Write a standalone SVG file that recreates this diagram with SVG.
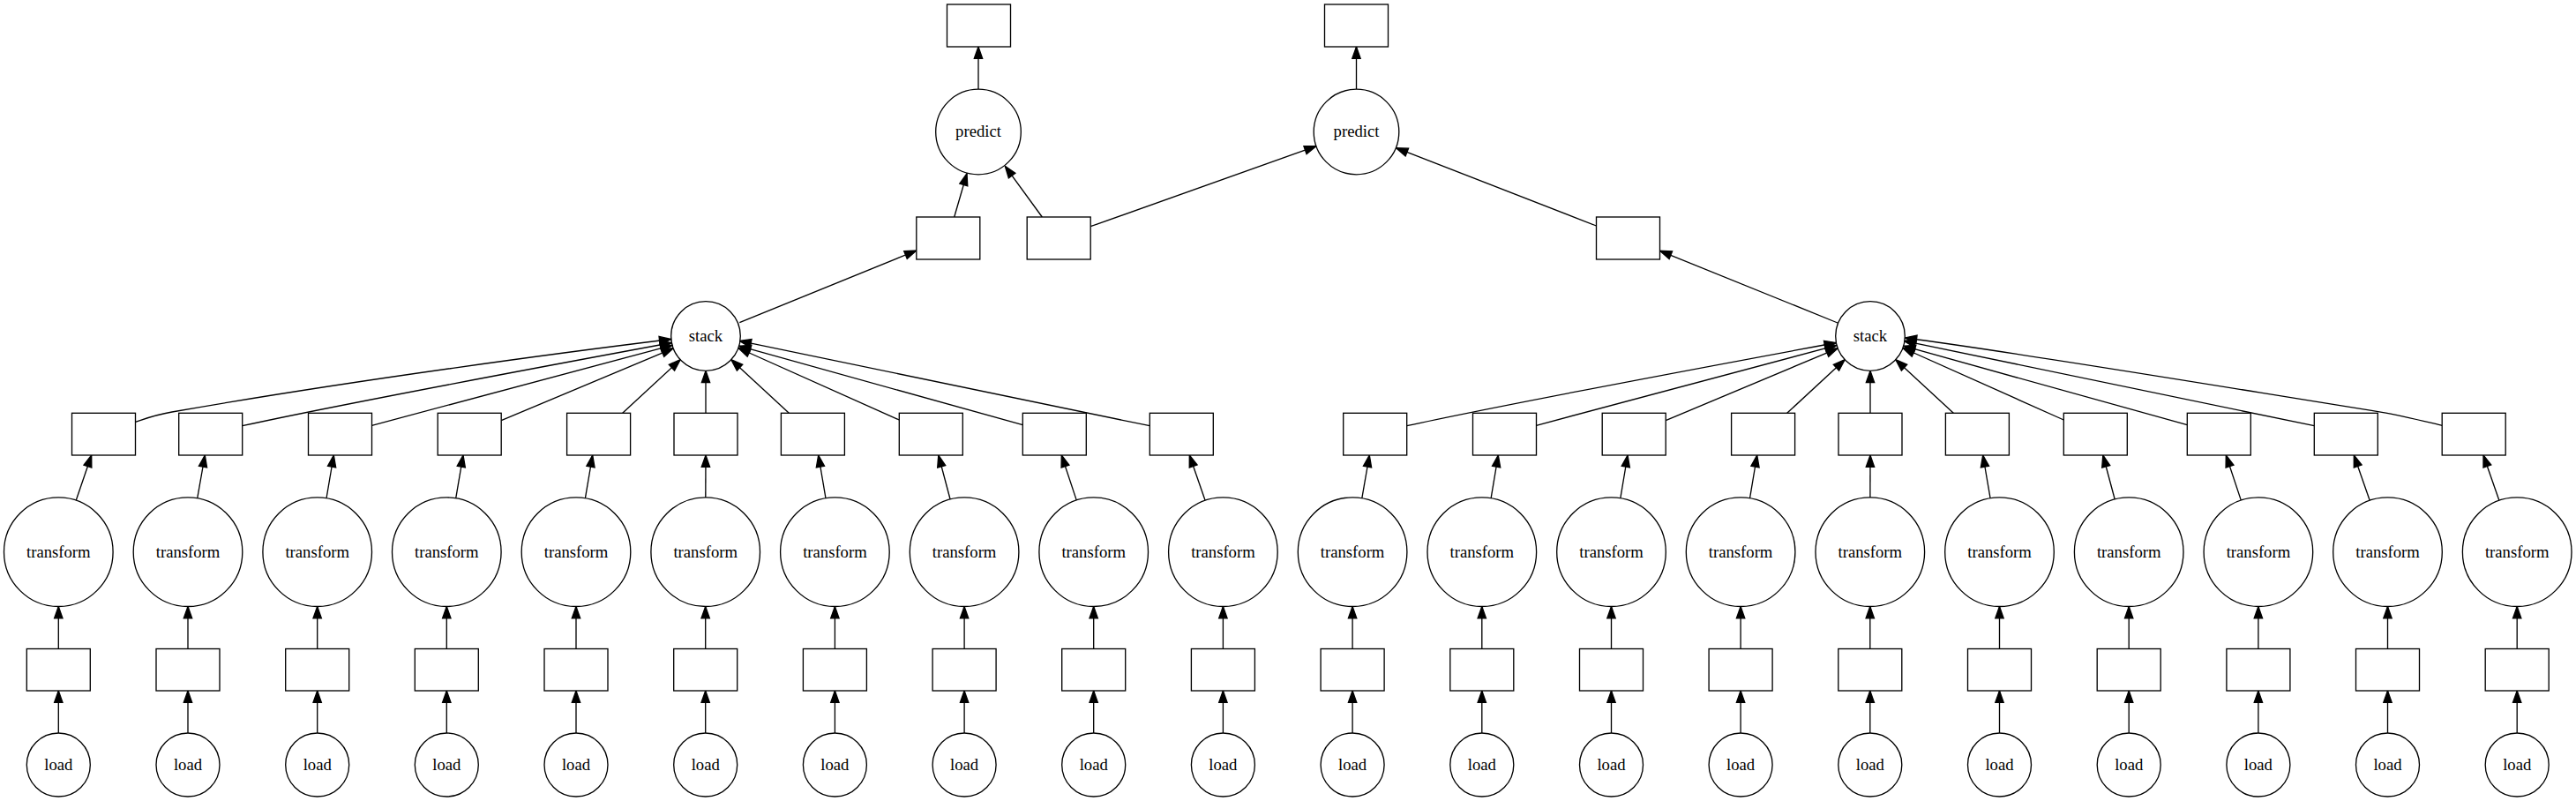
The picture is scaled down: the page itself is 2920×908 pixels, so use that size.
<svg xmlns="http://www.w3.org/2000/svg" width="2920" height="908" viewBox="0 0 2920 908">
<style>
.nd{fill:#fff;stroke:#000;stroke-width:1.33}
.e{fill:none;stroke:#000;stroke-width:1.33}
text{font-family:"Liberation Serif","Times New Roman",serif;font-size:18.67px;text-anchor:middle;fill:#000}
</style>
<defs>
<marker id="ah" markerUnits="userSpaceOnUse" viewBox="-1 -6 16 12" markerWidth="16" markerHeight="12" refX="13.3" refY="0" orient="auto" overflow="visible">
<path d="M0,-4.67 L13.3,0 L0,4.67 Z" fill="#000" stroke="#000" stroke-width="1.33"/>
</marker>
</defs>
<rect width="2920" height="908" fill="#fff"/>
<g id="edges" class="e" marker-end="url(#ah)">
<!-- load -> lower box -->
<path d="M66.3,831 L66.3,783"/><path d="M213,831 L213,783"/><path d="M359.7,831 L359.7,783"/><path d="M506.3,831 L506.3,783"/><path d="M653,831 L653,783"/>
<path d="M799.7,831 L799.7,783"/><path d="M946.4,831 L946.4,783"/><path d="M1093.1,831 L1093.1,783"/><path d="M1239.7,831 L1239.7,783"/><path d="M1386.4,831 L1386.4,783"/>
<path d="M1533.1,831 L1533.1,783"/><path d="M1679.8,831 L1679.8,783"/><path d="M1826.5,831 L1826.5,783"/><path d="M1973.1,831 L1973.1,783"/><path d="M2119.8,831 L2119.8,783"/>
<path d="M2266.5,831 L2266.5,783"/><path d="M2413.2,831 L2413.2,783"/><path d="M2559.9,831 L2559.9,783"/><path d="M2706.5,831 L2706.5,783"/><path d="M2853.2,831 L2853.2,783"/>
<!-- lower box -> transform -->
<path d="M66.3,735.5 L66.3,687.5"/><path d="M213,735.5 L213,687.5"/><path d="M359.7,735.5 L359.7,687.5"/><path d="M506.3,735.5 L506.3,687.5"/><path d="M653,735.5 L653,687.5"/>
<path d="M799.7,735.5 L799.7,687.5"/><path d="M946.4,735.5 L946.4,687.5"/><path d="M1093.1,735.5 L1093.1,687.5"/><path d="M1239.7,735.5 L1239.7,687.5"/><path d="M1386.4,735.5 L1386.4,687.5"/>
<path d="M1533.1,735.5 L1533.1,687.5"/><path d="M1679.8,735.5 L1679.8,687.5"/><path d="M1826.5,735.5 L1826.5,687.5"/><path d="M1973.1,735.5 L1973.1,687.5"/><path d="M2119.8,735.5 L2119.8,687.5"/>
<path d="M2266.5,735.5 L2266.5,687.5"/><path d="M2413.2,735.5 L2413.2,687.5"/><path d="M2559.9,735.5 L2559.9,687.5"/><path d="M2706.5,735.5 L2706.5,687.5"/><path d="M2853.2,735.5 L2853.2,687.5"/>
<!-- transform -> upper box -->
<path d="M86.2,567.2 L103.7,516"/><path d="M223.7,564.8 L232.3,516"/><path d="M370,564.8 L378.3,516"/><path d="M516.7,564.8 L525,516"/><path d="M663.4,564.8 L671.7,516"/>
<path d="M799.8,563.9 L800,516"/><path d="M936,564.8 L927.7,516"/><path d="M1077.1,566 L1063.8,516"/><path d="M1220.3,567.1 L1203.3,516"/><path d="M1366.1,567.3 L1348.3,516"/>
<path d="M1543.8,564.8 L1552.3,516"/><path d="M1690.1,564.8 L1698.3,516"/><path d="M1836.8,564.8 L1845,516"/><path d="M1983.5,564.8 L1991.7,516"/><path d="M2119.9,563.9 L2120,516"/>
<path d="M2256.1,564.8 L2247.7,516"/><path d="M2397.2,566 L2383.8,516"/><path d="M2540.3,567.1 L2523.3,516"/><path d="M2686.2,567.3 L2668.3,516"/><path d="M2832.9,567.3 L2815,516"/>
<!-- upper box -> stack (left) -->
<path d="M153.5,478.3 C165,474.5 175,470.5 195,467 C400,431 650,398 760.8,384.5"/>
<path d="M274.7,482.7 C380,459.5 640,411 761.4,388.5"/>
<path d="M421.5,482.3 L762,391.4"/>
<path d="M568.2,476.7 L763.2,394.8"/>
<path d="M705.7,468.3 L771.2,407.7"/>
<path d="M800,468.3 L800,420.3"/>
<path d="M894.3,468.3 L828.8,407.7"/>
<path d="M1019.3,476 L837,394.5"/>
<path d="M1159.3,481.7 L837.8,392.2"/>
<path d="M1303.3,482.7 L838.1,386.4"/>
<!-- upper box -> stack (right) -->
<path d="M1594.7,482.7 C1700,459.5 1960,411 2081.4,388.5"/>
<path d="M1741.5,482.3 L2082,391.4"/>
<path d="M1888.2,476.7 L2083.2,394.8"/>
<path d="M2025.7,468.3 L2091.2,407.7"/>
<path d="M2120,468.3 L2120,420.3"/>
<path d="M2214.3,468.3 L2148.8,407.7"/>
<path d="M2339.3,476 L2157,394.5"/>
<path d="M2479.3,481.7 L2157.8,392.2"/>
<path d="M2623.3,482.7 L2158.1,386.4"/>
<path d="M2768.2,482.3 C2750,478 2720,470.5 2700,467.3 C2500,435.3 2270,397 2159.3,383"/>
<!-- top section -->
<path d="M838.3,365.7 L1038.8,284"/>
<path d="M2083,366 L1881.5,284.3"/>
<path d="M1081.7,246 L1096,196.7"/>
<path d="M1181.3,246 L1139.3,188.3"/>
<path d="M1236.2,256.7 L1492,165.7"/>
<path d="M1809.5,256 L1582.5,167.7"/>
<path d="M1109,101.2 L1109,53"/>
<path d="M1537.5,101.2 L1537.5,53"/>
</g>
<!-- load nodes -->
<g id="load0"><circle class="nd" cx="66.3" cy="867" r="36"/><text x="66.3" y="872.6">load</text></g>
<g id="load1"><circle class="nd" cx="213" cy="867" r="36"/><text x="213" y="872.6">load</text></g>
<g id="load2"><circle class="nd" cx="359.7" cy="867" r="36"/><text x="359.7" y="872.6">load</text></g>
<g id="load3"><circle class="nd" cx="506.3" cy="867" r="36"/><text x="506.3" y="872.6">load</text></g>
<g id="load4"><circle class="nd" cx="653" cy="867" r="36"/><text x="653" y="872.6">load</text></g>
<g id="load5"><circle class="nd" cx="799.7" cy="867" r="36"/><text x="799.7" y="872.6">load</text></g>
<g id="load6"><circle class="nd" cx="946.4" cy="867" r="36"/><text x="946.4" y="872.6">load</text></g>
<g id="load7"><circle class="nd" cx="1093.1" cy="867" r="36"/><text x="1093.1" y="872.6">load</text></g>
<g id="load8"><circle class="nd" cx="1239.7" cy="867" r="36"/><text x="1239.7" y="872.6">load</text></g>
<g id="load9"><circle class="nd" cx="1386.4" cy="867" r="36"/><text x="1386.4" y="872.6">load</text></g>
<g id="load10"><circle class="nd" cx="1533.1" cy="867" r="36"/><text x="1533.1" y="872.6">load</text></g>
<g id="load11"><circle class="nd" cx="1679.8" cy="867" r="36"/><text x="1679.8" y="872.6">load</text></g>
<g id="load12"><circle class="nd" cx="1826.5" cy="867" r="36"/><text x="1826.5" y="872.6">load</text></g>
<g id="load13"><circle class="nd" cx="1973.1" cy="867" r="36"/><text x="1973.1" y="872.6">load</text></g>
<g id="load14"><circle class="nd" cx="2119.8" cy="867" r="36"/><text x="2119.8" y="872.6">load</text></g>
<g id="load15"><circle class="nd" cx="2266.5" cy="867" r="36"/><text x="2266.5" y="872.6">load</text></g>
<g id="load16"><circle class="nd" cx="2413.2" cy="867" r="36"/><text x="2413.2" y="872.6">load</text></g>
<g id="load17"><circle class="nd" cx="2559.9" cy="867" r="36"/><text x="2559.9" y="872.6">load</text></g>
<g id="load18"><circle class="nd" cx="2706.5" cy="867" r="36"/><text x="2706.5" y="872.6">load</text></g>
<g id="load19"><circle class="nd" cx="2853.2" cy="867" r="36"/><text x="2853.2" y="872.6">load</text></g>
<!-- lower boxes -->
<g id="lb0"><rect class="nd" x="30.3" y="735.5" width="72" height="47.5"/></g>
<g id="lb1"><rect class="nd" x="177" y="735.5" width="72" height="47.5"/></g>
<g id="lb2"><rect class="nd" x="323.7" y="735.5" width="72" height="47.5"/></g>
<g id="lb3"><rect class="nd" x="470.3" y="735.5" width="72" height="47.5"/></g>
<g id="lb4"><rect class="nd" x="617" y="735.5" width="72" height="47.5"/></g>
<g id="lb5"><rect class="nd" x="763.7" y="735.5" width="72" height="47.5"/></g>
<g id="lb6"><rect class="nd" x="910.4" y="735.5" width="72" height="47.5"/></g>
<g id="lb7"><rect class="nd" x="1057.1" y="735.5" width="72" height="47.5"/></g>
<g id="lb8"><rect class="nd" x="1203.7" y="735.5" width="72" height="47.5"/></g>
<g id="lb9"><rect class="nd" x="1350.4" y="735.5" width="72" height="47.5"/></g>
<g id="lb10"><rect class="nd" x="1497.1" y="735.5" width="72" height="47.5"/></g>
<g id="lb11"><rect class="nd" x="1643.8" y="735.5" width="72" height="47.5"/></g>
<g id="lb12"><rect class="nd" x="1790.5" y="735.5" width="72" height="47.5"/></g>
<g id="lb13"><rect class="nd" x="1937.1" y="735.5" width="72" height="47.5"/></g>
<g id="lb14"><rect class="nd" x="2083.8" y="735.5" width="72" height="47.5"/></g>
<g id="lb15"><rect class="nd" x="2230.5" y="735.5" width="72" height="47.5"/></g>
<g id="lb16"><rect class="nd" x="2377.2" y="735.5" width="72" height="47.5"/></g>
<g id="lb17"><rect class="nd" x="2523.9" y="735.5" width="72" height="47.5"/></g>
<g id="lb18"><rect class="nd" x="2670.5" y="735.5" width="72" height="47.5"/></g>
<g id="lb19"><rect class="nd" x="2817.2" y="735.5" width="72" height="47.5"/></g>
<!-- transform nodes -->
<g id="tr0"><circle class="nd" cx="66.3" cy="625.7" r="61.8"/><text x="66.3" y="631.6">transform</text></g>
<g id="tr1"><circle class="nd" cx="213" cy="625.7" r="61.8"/><text x="213" y="631.6">transform</text></g>
<g id="tr2"><circle class="nd" cx="359.7" cy="625.7" r="61.8"/><text x="359.7" y="631.6">transform</text></g>
<g id="tr3"><circle class="nd" cx="506.3" cy="625.7" r="61.8"/><text x="506.3" y="631.6">transform</text></g>
<g id="tr4"><circle class="nd" cx="653" cy="625.7" r="61.8"/><text x="653" y="631.6">transform</text></g>
<g id="tr5"><circle class="nd" cx="799.7" cy="625.7" r="61.8"/><text x="799.7" y="631.6">transform</text></g>
<g id="tr6"><circle class="nd" cx="946.4" cy="625.7" r="61.8"/><text x="946.4" y="631.6">transform</text></g>
<g id="tr7"><circle class="nd" cx="1093.1" cy="625.7" r="61.8"/><text x="1093.1" y="631.6">transform</text></g>
<g id="tr8"><circle class="nd" cx="1239.7" cy="625.7" r="61.8"/><text x="1239.7" y="631.6">transform</text></g>
<g id="tr9"><circle class="nd" cx="1386.4" cy="625.7" r="61.8"/><text x="1386.4" y="631.6">transform</text></g>
<g id="tr10"><circle class="nd" cx="1533.1" cy="625.7" r="61.8"/><text x="1533.1" y="631.6">transform</text></g>
<g id="tr11"><circle class="nd" cx="1679.8" cy="625.7" r="61.8"/><text x="1679.8" y="631.6">transform</text></g>
<g id="tr12"><circle class="nd" cx="1826.5" cy="625.7" r="61.8"/><text x="1826.5" y="631.6">transform</text></g>
<g id="tr13"><circle class="nd" cx="1973.1" cy="625.7" r="61.8"/><text x="1973.1" y="631.6">transform</text></g>
<g id="tr14"><circle class="nd" cx="2119.8" cy="625.7" r="61.8"/><text x="2119.8" y="631.6">transform</text></g>
<g id="tr15"><circle class="nd" cx="2266.5" cy="625.7" r="61.8"/><text x="2266.5" y="631.6">transform</text></g>
<g id="tr16"><circle class="nd" cx="2413.2" cy="625.7" r="61.8"/><text x="2413.2" y="631.6">transform</text></g>
<g id="tr17"><circle class="nd" cx="2559.9" cy="625.7" r="61.8"/><text x="2559.9" y="631.6">transform</text></g>
<g id="tr18"><circle class="nd" cx="2706.5" cy="625.7" r="61.8"/><text x="2706.5" y="631.6">transform</text></g>
<g id="tr19"><circle class="nd" cx="2853.2" cy="625.7" r="61.8"/><text x="2853.2" y="631.6">transform</text></g>
<!-- upper boxes -->
<g id="ub0"><rect class="nd" x="81.5" y="468.3" width="72" height="47.7"/></g>
<g id="ub1"><rect class="nd" x="202.7" y="468.3" width="72" height="47.7"/></g>
<g id="ub2"><rect class="nd" x="349.5" y="468.3" width="72" height="47.7"/></g>
<g id="ub3"><rect class="nd" x="496.2" y="468.3" width="72" height="47.7"/></g>
<g id="ub4"><rect class="nd" x="642.6" y="468.3" width="72" height="47.7"/></g>
<g id="ub5"><rect class="nd" x="764" y="468.3" width="72" height="47.7"/></g>
<g id="ub6"><rect class="nd" x="885.4" y="468.3" width="72" height="47.7"/></g>
<g id="ub7"><rect class="nd" x="1019.3" y="468.3" width="72" height="47.7"/></g>
<g id="ub8"><rect class="nd" x="1159.3" y="468.3" width="72" height="47.7"/></g>
<g id="ub9"><rect class="nd" x="1303.3" y="468.3" width="72" height="47.7"/></g>
<g id="ub10"><rect class="nd" x="1522.7" y="468.3" width="72" height="47.7"/></g>
<g id="ub11"><rect class="nd" x="1669.5" y="468.3" width="72" height="47.7"/></g>
<g id="ub12"><rect class="nd" x="1816.2" y="468.3" width="72" height="47.7"/></g>
<g id="ub13"><rect class="nd" x="1962.6" y="468.3" width="72" height="47.7"/></g>
<g id="ub14"><rect class="nd" x="2084" y="468.3" width="72" height="47.7"/></g>
<g id="ub15"><rect class="nd" x="2205.4" y="468.3" width="72" height="47.7"/></g>
<g id="ub16"><rect class="nd" x="2339.3" y="468.3" width="72" height="47.7"/></g>
<g id="ub17"><rect class="nd" x="2479.3" y="468.3" width="72" height="47.7"/></g>
<g id="ub18"><rect class="nd" x="2623.3" y="468.3" width="72" height="47.7"/></g>
<g id="ub19"><rect class="nd" x="2768.2" y="468.3" width="72" height="47.7"/></g>
<!-- stacks -->
<g id="stack0"><circle class="nd" cx="800" cy="381" r="39.3"/><text x="800" y="386.8">stack</text></g>
<g id="stack1"><circle class="nd" cx="2120" cy="381" r="39.3"/><text x="2120" y="386.8">stack</text></g>
<!-- middle boxes -->
<g id="midA"><rect class="nd" x="1038.8" y="246" width="72" height="48"/></g>
<g id="midB"><rect class="nd" x="1164.2" y="246" width="72" height="48"/></g>
<g id="midC"><rect class="nd" x="1809.5" y="246" width="72" height="48"/></g>
<!-- predict -->
<g id="pred0"><circle class="nd" cx="1109" cy="149.5" r="48.3"/><text x="1109" y="155.3">predict</text></g>
<g id="pred1"><circle class="nd" cx="1537.5" cy="149.5" r="48.3"/><text x="1537.5" y="155.3">predict</text></g>
<!-- outputs -->
<g id="out0"><rect class="nd" x="1073.5" y="5" width="72" height="48"/></g>
<g id="out1"><rect class="nd" x="1501.5" y="5" width="72" height="48"/></g>
</svg>
